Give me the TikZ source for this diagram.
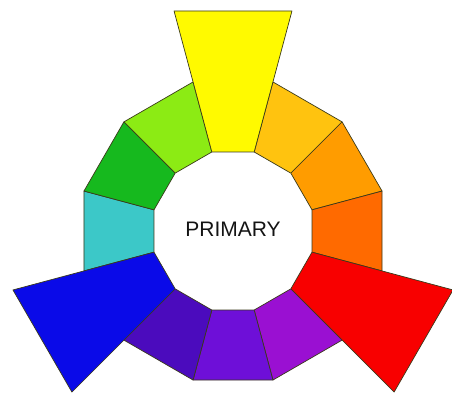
\documentclass[tikz,border=0pt]{standalone}
\usepackage{fontspec}
\setmainfont{Liberation Sans}
\definecolor{cY}{HTML}{FFFA00}
\definecolor{cYO}{HTML}{FFC30F}
\definecolor{cO}{HTML}{FF9C00}
\definecolor{cRO}{HTML}{FF6A00}
\definecolor{cR}{HTML}{F80000}
\definecolor{cRV}{HTML}{9A10D2}
\definecolor{cV}{HTML}{6E0FD8}
\definecolor{cBV}{HTML}{4B0BBD}
\definecolor{cB}{HTML}{0A0AE8}
\definecolor{cBG}{HTML}{3CC8C8}
\definecolor{cG}{HTML}{16B91E}
\definecolor{cYG}{HTML}{8CEB14}
\definecolor{edge}{HTML}{3A3A1A}
\begin{document}
\begin{tikzpicture}[x=1pt,y=1pt,
  seg/.style={draw=edge, line width=0.7pt, line join=round},
  lbl/.style={font=\fontsize{21}{25}\selectfont, text=black!92}]
\useasboundingbox (0,0) rectangle (452,396);
\begin{scope}[shift={(233,165)}]
  \foreach \a/\c in {60/cYO,30/cO,0/cRO,-60/cRV,-90/cV,-120/cBV,180/cBG,150/cG,120/cYG} {
    \filldraw[seg, fill=\c] (\a-15:81.8) -- (\a-15:154.3) -- (\a+15:154.3) -- (\a+15:81.8) -- cycle;
  }
  \foreach \a/\c in {90/cY,-30/cR,-150/cB} {
    \filldraw[seg, fill=\c] (\a-15:81.8) -- (\a-15:227.8) -- (\a+15:227.8) -- (\a+15:81.8) -- cycle;
  }
  \node[lbl] (label) at (0,1.5) {PRIMARY};
\end{scope}
\end{tikzpicture}
\end{document}
